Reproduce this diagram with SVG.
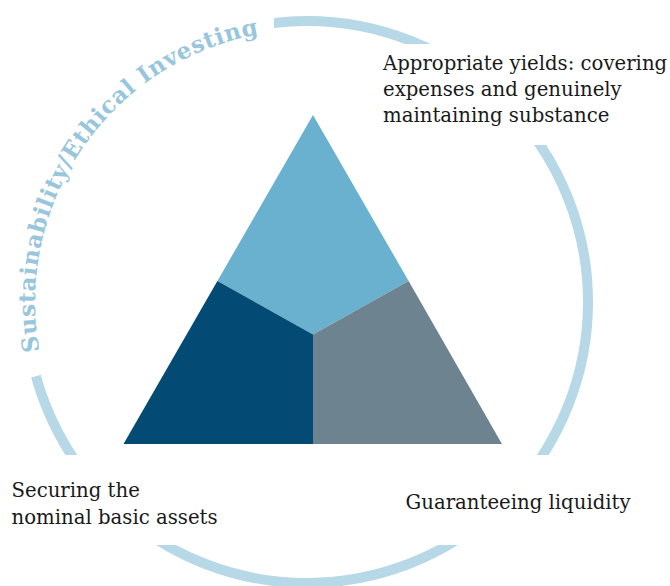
<svg xmlns="http://www.w3.org/2000/svg" width="670" height="586" viewBox="0 0 670 586">
<style>
.lbl{font-family:"DejaVu Serif","Liberation Serif",serif;font-size:19.7px;fill:#1a1a1a}
.ring{fill:none;stroke:#b7d8e6;stroke-width:10}
.arct{font-family:"DejaVu Serif","Liberation Serif",serif;font-weight:bold;font-size:23px;fill:#98c6dd}
</style>
<defs>
<clipPath id="ringClip">
<rect x="274" y="0" width="200" height="44"/>
<rect x="420" y="145" width="250" height="310"/>
<rect x="0" y="545" width="670" height="41"/>
<polygon points="0,386 307,302 307,455 0,455"/>
</clipPath>
<path id="textArc" d="M39.5,351.1 A272,272 0 0 1 259.8,34.1"/>
</defs>
<rect width="670" height="586" fill="#ffffff"/>
<g id="ring">
<circle class="ring" cx="307" cy="302" r="281" clip-path="url(#ringClip)"/>
<text class="arct"><textPath href="#textArc" textLength="428" lengthAdjust="spacing">Sustainability/Ethical Investing</textPath></text>
</g>
<g id="triangle">
<polygon id="seg-top" points="313,115 408.6,281 313,334.5 217.4,281" fill="#69b1cf"/>
<polygon id="seg-left" points="217.4,281 313,334.5 313,444 123.5,444" fill="#034b75"/>
<polygon id="seg-right" points="408.6,281 502,444 313,444 313,334.5" fill="#6d838f"/>
</g>
<g id="label-yields">
<text class="lbl" x="383" y="69.5">Appropriate yields: covering</text>
<text class="lbl" x="383" y="95.5">expenses and genuinely</text>
<text class="lbl" x="383" y="121.5">maintaining substance</text>
</g>
<g id="label-assets">
<text class="lbl" x="11.5" y="497">Securing the</text>
<text class="lbl" x="11.5" y="523.5">nominal basic assets</text>
</g>
<g id="label-liquidity">
<text class="lbl" x="405.5" y="509">Guaranteeing liquidity</text>
</g>
<g id="connectors"/>
</svg>
